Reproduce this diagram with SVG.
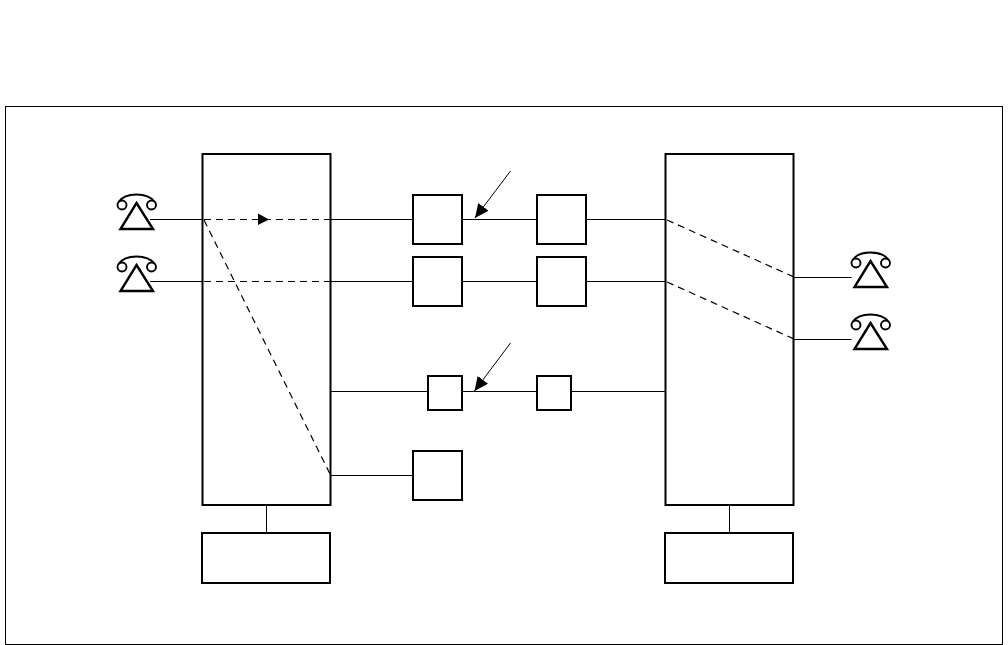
<svg xmlns="http://www.w3.org/2000/svg" width="1008" height="645" viewBox="0 0 1008 645">
<style>
.b{fill:#fff;stroke:#000;stroke-width:2}
.f{fill:none;stroke:#000;stroke-width:1}
.l{fill:none;stroke:#000;stroke-width:1}
.d{fill:none;stroke:#000;stroke-width:1.200;stroke-dasharray:7 5}
.p{fill:none;stroke:#000;stroke-width:1.900}
</style>
<defs>
<g id="phone">
<path class="p" d="M136.500 203L153 229H120.500Z" style="stroke-width:2.400"/>
<circle class="p" cx="122" cy="205" r="4.500"/>
<circle class="p" cx="151.500" cy="205" r="4.500"/>
<path class="p" d="M118.500 202C122 197 129 194.500 136.500 194.500C144 194.500 151 197 155 202"/>
</g>
<marker id="ah" markerUnits="userSpaceOnUse" markerWidth="15" markerHeight="14" refX="14" refY="6.500" orient="auto"><path d="M0 0L14 6.500L0 13Z" fill="#000"/></marker>
</defs>
<rect x="5.500" y="106.500" width="997" height="538" class="f"/>
<g id="switch-left"><rect class="b" x="202.500" y="154" width="128" height="351"/></g>
<g id="switch-right"><rect class="b" x="665.500" y="154" width="128" height="351"/></g>
<g id="control-left"><rect class="b" x="202" y="533" width="128" height="50"/></g>
<g id="control-right"><rect class="b" x="665" y="533" width="128" height="50"/></g>
<g id="box-a1"><rect class="b" x="413" y="195" width="49" height="49"/></g>
<g id="box-a2"><rect class="b" x="537" y="195" width="49" height="49"/></g>
<g id="box-b1"><rect class="b" x="413" y="257" width="49" height="49"/></g>
<g id="box-b2"><rect class="b" x="537" y="257" width="49" height="49"/></g>
<g id="box-c1"><rect class="b" x="428" y="376" width="34" height="34"/></g>
<g id="box-c2"><rect class="b" x="537" y="376" width="34" height="34"/></g>
<g id="box-d"><rect class="b" x="413" y="451" width="49" height="49"/></g>
<g id="phone-l1"><use href="#phone"/></g>
<g id="phone-l2"><use href="#phone" y="62"/></g>
<g id="phone-r1"><use href="#phone" x="734" y="58"/></g>
<g id="phone-r2"><use href="#phone" x="734" y="120"/></g>
<g id="connectors">
<path class="l" d="M150 219.500H203M331 219.500H412M463 219.500H536M587 219.500H665"/>
<path class="l" d="M150 281.500H203M331 281.500H412M463 281.500H536M587 281.500H665"/>
<path class="l" d="M331 391.500H427M463 391.500H536M572 391.500H665"/>
<path class="l" d="M331 475.500H412"/>
<path class="l" d="M794 277.500H851.500M794 339.500H851.500"/>
<path class="l" d="M266.500 505V532M729.500 505V532"/>
<path class="d" d="M204 219.500H330"/>
<path class="d" d="M204 281.500H330"/>
<path class="d" d="M204 220L330 474"/>
<path class="d" d="M667 220L794 277"/>
<path class="d" d="M667 282L794 339"/>
<path d="M258 213.500L269 219.500L258 225Z" fill="#000"/>
<path class="l" d="M510.500 171L475 218" marker-end="url(#ah)"/>
<path class="l" d="M510.500 343L474.500 391" marker-end="url(#ah)"/>
</g>
</svg>
